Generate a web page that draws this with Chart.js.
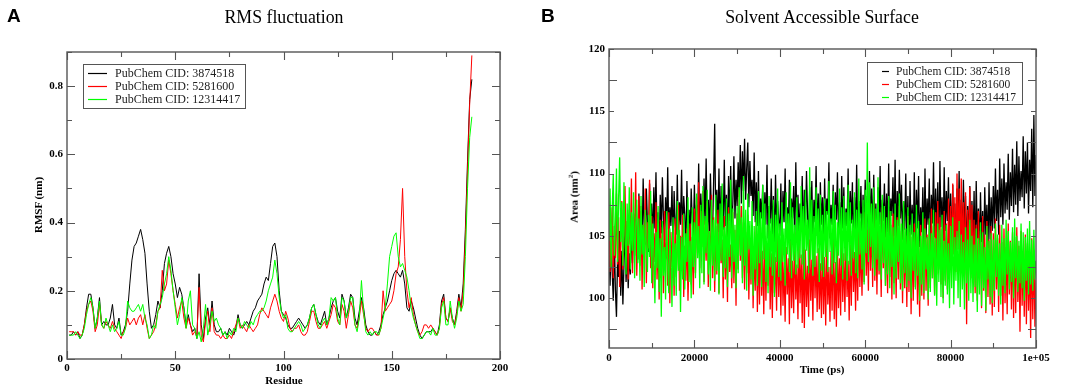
<!DOCTYPE html>
<html>
<head>
<meta charset="utf-8">
<script src="https://cdn.jsdelivr.net/npm/chart.js@4.4.1/dist/chart.umd.min.js"></script>
<style>
  html, body { margin: 0; padding: 0; background: #fff; }
  #page { position: relative; width: 1065px; height: 390px; overflow: hidden; background: #fff; }
  canvas { position: absolute; top: 0; }
  .t { position: absolute; white-space: nowrap; color: #000; }
  .panel { font-family: "Liberation Sans", Arial, sans-serif; font-weight: bold; font-size: 19px; }
  .title { font-family: "Liberation Serif", "Times New Roman", serif; font-size: 17.8px; transform: translateX(-50%); }
  .axt { font-family: "Liberation Serif", "Times New Roman", serif; font-weight: bold; font-size: 11px; }
</style>
</head>
<body>
<div id="page">
  <canvas id="cA" width="530" height="390" style="left:0;width:530px;height:390px"></canvas>
  <canvas id="cB" width="535" height="390" style="left:530px;width:535px;height:390px"></canvas>
  <div class="t panel" style="left:7px;top:5px">A</div>
  <div class="t panel" style="left:541px;top:5px">B</div>
  <div class="t title" style="left:284px;top:7px">RMS fluctuation</div>
  <div class="t title" style="left:822px;top:7px">Solvent Accessible Surface</div>
  <div class="t axt" style="left:284px;top:374px;transform:translateX(-50%)">Residue</div>
  <div class="t axt" style="left:38px;top:205px;transform:translate(-50%,-50%) rotate(-90deg)">RMSF (nm)</div>
  <div class="t axt" style="left:822px;top:363px;transform:translateX(-50%)">Time (ps)</div>
  <div class="t axt" style="left:573px;top:197px;transform:translate(-50%,-50%) rotate(-90deg)">Area (nm<sup style="font-size:7px">2</sup>)</div>
</div>
<script>
// ---------------- DATA ----------------
const seriesLabels = ['PubChem CID: 3874518', 'PubChem CID: 5281600', 'PubChem CID: 12314417'];

// Panel A: RMSF per residue (residues 1..187)
const rmsfBlack = [
  0.07,0.07,0.08,0.07,0.08,0.06,0.07,0.10,0.15,0.19,
  0.19,0.15,0.09,0.12,0.18,0.10,0.11,0.10,0.10,0.12,
  0.16,0.10,0.09,0.12,0.07,0.08,0.10,0.14,0.22,0.29,
  0.33,0.34,0.36,0.38,0.35,0.31,0.22,0.14,0.09,0.10,
  0.13,0.17,0.15,0.20,0.28,0.31,0.33,0.30,0.25,0.22,
  0.18,0.21,0.19,0.15,0.10,0.13,0.10,0.08,0.09,0.06,
  0.25,0.10,0.06,0.12,0.15,0.10,0.17,0.10,0.08,0.08,
  0.09,0.07,0.08,0.07,0.09,0.08,0.07,0.09,0.13,0.10,
  0.09,0.10,0.11,0.10,0.12,0.14,0.15,0.17,0.18,0.19,
  0.22,0.24,0.23,0.28,0.33,0.34,0.30,0.20,0.14,0.13,
  0.12,0.10,0.09,0.09,0.10,0.11,0.12,0.11,0.10,0.09,
  0.10,0.12,0.15,0.16,0.13,0.11,0.10,0.12,0.14,0.10,
  0.12,0.15,0.17,0.18,0.14,0.12,0.19,0.17,0.12,0.15,
  0.19,0.18,0.12,0.10,0.14,0.18,0.15,0.10,0.08,0.07,
  0.07,0.08,0.07,0.08,0.10,0.13,0.15,0.17,0.20,0.23,
  0.25,0.26,0.25,0.24,0.26,0.22,0.15,0.14,0.17,0.15,
  0.12,0.09,0.07,0.06,0.07,0.08,0.08,0.08,0.09,0.08,
  0.07,0.10,0.17,0.19,0.12,0.11,0.15,0.12,0.10,0.14,
  0.19,0.15,0.22,0.38,0.58,0.76,0.82
];
const rmsfRed = [
  0.08,0.08,0.08,0.07,0.08,0.07,0.07,0.10,0.14,0.16,
  0.17,0.14,0.08,0.10,0.16,0.10,0.09,0.11,0.10,0.09,
  0.11,0.09,0.08,0.07,0.06,0.08,0.09,0.12,0.10,0.11,
  0.12,0.10,0.12,0.13,0.10,0.13,0.09,0.06,0.07,0.08,
  0.10,0.14,0.15,0.26,0.20,0.22,0.29,0.25,0.20,0.16,
  0.12,0.15,0.17,0.12,0.09,0.12,0.10,0.07,0.08,0.07,
  0.21,0.07,0.05,0.11,0.14,0.08,0.15,0.08,0.07,0.07,
  0.06,0.07,0.06,0.06,0.07,0.06,0.08,0.10,0.12,0.09,
  0.10,0.09,0.08,0.10,0.09,0.08,0.09,0.10,0.13,0.15,
  0.14,0.13,0.12,0.15,0.17,0.19,0.17,0.14,0.12,0.11,
  0.14,0.12,0.09,0.08,0.09,0.09,0.10,0.08,0.07,0.07,
  0.08,0.11,0.14,0.14,0.11,0.09,0.09,0.10,0.11,0.09,
  0.11,0.13,0.16,0.15,0.11,0.10,0.16,0.14,0.09,0.13,
  0.17,0.15,0.10,0.09,0.12,0.17,0.13,0.09,0.08,0.09,
  0.09,0.08,0.07,0.07,0.09,0.20,0.14,0.15,0.16,0.17,
  0.20,0.25,0.27,0.35,0.50,0.30,0.20,0.15,0.18,0.13,
  0.10,0.08,0.07,0.08,0.10,0.10,0.09,0.10,0.09,0.08,
  0.07,0.09,0.16,0.18,0.12,0.11,0.15,0.11,0.10,0.13,
  0.18,0.14,0.20,0.35,0.55,0.75,0.89
];
const rmsfGreen = [
  0.07,0.07,0.07,0.08,0.07,0.06,0.07,0.09,0.13,0.16,
  0.18,0.15,0.09,0.12,0.17,0.10,0.09,0.12,0.10,0.08,
  0.10,0.08,0.09,0.11,0.07,0.07,0.09,0.17,0.15,0.14,
  0.14,0.15,0.16,0.14,0.16,0.12,0.10,0.06,0.07,0.10,
  0.09,0.14,0.16,0.18,0.22,0.25,0.30,0.26,0.20,0.15,
  0.10,0.13,0.18,0.15,0.09,0.17,0.20,0.10,0.09,0.06,
  0.08,0.05,0.09,0.16,0.07,0.10,0.14,0.11,0.12,0.10,
  0.09,0.07,0.08,0.06,0.08,0.07,0.09,0.08,0.12,0.10,
  0.09,0.11,0.10,0.09,0.11,0.10,0.12,0.13,0.14,0.14,
  0.15,0.17,0.20,0.22,0.24,0.29,0.25,0.18,0.14,0.12,
  0.13,0.09,0.08,0.08,0.09,0.10,0.11,0.10,0.08,0.09,
  0.10,0.12,0.15,0.16,0.13,0.10,0.09,0.11,0.12,0.10,
  0.12,0.18,0.17,0.18,0.12,0.10,0.18,0.17,0.12,0.14,
  0.18,0.18,0.10,0.08,0.12,0.23,0.14,0.08,0.07,0.08,
  0.07,0.08,0.08,0.07,0.09,0.12,0.15,0.22,0.30,0.33,
  0.36,0.37,0.30,0.27,0.28,0.26,0.24,0.20,0.15,0.12,
  0.10,0.08,0.06,0.06,0.07,0.08,0.08,0.07,0.09,0.07,
  0.07,0.09,0.15,0.17,0.10,0.10,0.17,0.12,0.09,0.12,
  0.17,0.14,0.16,0.30,0.50,0.65,0.71
];
const rmsfXTicks = [0, 50, 100, 150, 200];
const rmsfYTicks = [0, 0.2, 0.4, 0.6, 0.8];

// Panel B: SAS area (nm^2), one sample every 250 ps from 0 to 100000 ps
const sasStepPs = 250;
const sasBlack = [
  103.5,101.0,104.6,102.2,99.8,104.9,100.6,98.5,103.1,101.7,105.4,100.2,103.8,99.5,102.6,105.9,101.3,104.2,100.8,103.6,
  101.9,105.7,102.8,106.3,103.4,107.9,104.6,103.1,108.4,105.2,107.0,104.0,109.6,105.8,104.3,108.8,106.1,103.7,109.2,105.0,
  107.6,104.4,108.9,105.6,110.1,104.8,106.9,103.9,108.3,105.2,109.7,106.4,104.6,108.1,105.5,110.5,104.9,107.3,105.8,109.0,
  104.2,108.6,106.0,105.1,109.9,104.7,107.7,105.9,110.3,104.5,108.2,106.6,103.8,109.4,105.3,107.1,104.8,108.8,106.2,105.0,
  109.1,104.9,107.5,105.7,110.8,105.1,108.4,106.3,104.6,109.6,105.9,111.2,105.4,107.9,104.7,110.0,106.5,105.2,109.3,114.0,
  106.0,108.7,105.3,110.4,104.9,109.0,106.8,105.5,111.1,105.8,108.3,104.7,109.8,106.2,110.6,105.6,107.6,111.4,106.4,109.5,
  107.4,110.9,108.1,112.3,107.6,111.8,108.6,112.8,107.9,110.4,112.5,107.3,111.0,108.2,109.5,106.6,111.7,106.1,109.3,105.8,
  110.2,105.2,108.0,106.4,109.1,104.6,108.5,105.9,110.7,104.8,107.4,106.0,109.6,105.1,108.2,104.3,109.9,105.7,107.8,106.3,
  105.0,109.2,104.2,108.6,106.1,110.4,104.9,107.3,105.6,109.5,103.9,108.0,106.4,109.0,104.5,110.9,105.7,108.3,104.8,107.6,
  106.2,109.8,104.4,108.7,105.3,110.2,106.8,104.1,108.9,105.5,109.4,104.7,107.9,106.1,110.6,105.0,108.4,104.3,109.3,105.9,
  108.1,104.6,109.6,105.4,108.0,106.7,110.9,104.8,107.5,105.9,109.1,104.2,108.5,106.3,110.1,105.1,107.7,104.6,109.8,105.6,
  108.9,104.0,107.2,105.8,110.4,104.5,108.6,106.0,109.3,103.9,108.1,105.2,110.7,104.9,107.8,106.4,109.0,104.4,108.3,105.3,
  109.5,105.7,108.2,104.3,110.2,106.1,108.8,104.7,109.9,105.4,107.6,103.8,108.9,105.9,110.6,104.6,107.9,106.2,109.2,104.9,
  108.4,105.3,110.8,104.5,108.0,106.6,109.7,105.0,111.1,104.2,108.6,105.8,110.3,106.4,109.1,104.7,107.8,105.5,110.0,104.3,
  108.2,103.7,109.4,105.1,107.5,104.4,110.1,103.9,108.7,105.6,109.8,104.1,107.3,105.3,108.9,103.6,110.4,104.8,108.0,105.9,
  109.6,104.5,108.3,106.0,110.9,104.9,108.8,105.2,109.3,104.0,111.0,105.7,108.1,104.6,110.5,105.4,108.6,106.2,109.7,104.8,
  108.4,103.9,109.1,104.7,107.6,103.5,108.8,104.9,110.2,103.7,107.9,104.3,109.5,105.0,108.2,103.4,107.4,104.6,109.0,103.8,
  107.8,104.2,108.6,103.3,109.4,104.8,107.2,103.9,108.5,104.5,107.0,103.6,108.9,105.1,107.5,104.0,109.3,104.7,108.1,105.4,
  109.0,105.6,110.4,106.2,108.7,105.1,111.2,106.5,109.6,105.9,110.8,106.8,109.3,107.1,111.6,106.3,110.1,107.4,112.0,106.9,
  110.7,107.5,112.6,106.6,111.4,107.8,110.2,108.1,113.0,107.2,111.8,108.4,112.5,106.8,111.1,108.6,113.6,107.3,114.7,108.2,
  111.5
];
const sasRed = [
  106.0,102.1,104.9,107.3,101.6,105.8,103.2,108.4,102.7,106.5,100.9,104.4,107.8,102.3,105.1,109.0,103.4,106.2,101.5,107.1,
  104.3,109.6,102.0,106.8,103.7,110.1,101.8,105.5,108.2,102.6,107.4,100.7,105.9,103.3,108.8,101.2,106.1,104.0,109.5,102.4,
  106.6,100.8,105.2,102.9,107.7,101.5,104.6,99.9,106.3,102.2,105.7,100.4,107.0,103.1,104.5,101.0,106.9,99.6,105.3,102.5,
  104.8,100.2,106.4,101.7,103.9,107.5,100.6,105.0,102.8,106.7,100.1,104.2,101.4,105.6,99.8,103.7,106.0,101.1,104.9,100.3,
  107.2,102.0,108.1,103.6,109.3,102.4,107.0,104.1,108.6,101.3,106.2,103.0,107.8,100.9,105.4,102.7,108.3,101.6,106.5,100.5,
  105.8,101.9,107.1,100.4,106.0,102.8,104.7,100.0,106.6,101.5,105.1,99.7,107.3,102.1,104.3,100.8,106.9,101.2,105.5,99.4,
  106.8,102.3,108.7,103.0,107.4,101.6,106.1,100.7,105.3,102.0,106.7,99.9,104.6,101.1,105.9,99.2,104.0,100.6,106.3,98.9,
  104.5,99.5,105.7,100.2,103.8,98.7,105.0,99.8,104.2,101.0,105.8,99.1,103.6,98.4,104.9,100.4,103.3,99.0,105.2,100.1,
  103.7,98.6,104.8,99.4,102.9,98.1,104.1,100.3,103.2,97.9,104.6,99.2,103.0,98.8,105.3,99.9,102.7,98.3,104.4,99.6,
  103.5,98.0,104.3,97.6,103.9,99.3,102.6,98.5,104.7,99.8,103.1,98.2,105.0,100.0,103.4,98.9,104.0,99.1,102.8,98.4,
  104.2,98.7,103.3,97.8,104.5,99.5,102.5,98.1,103.8,99.0,104.9,98.3,102.9,97.7,104.1,99.2,103.2,98.6,105.1,99.7,
  103.6,98.9,104.8,100.1,103.0,98.2,104.3,99.4,105.4,100.5,103.7,99.0,104.6,99.8,106.0,100.9,104.4,100.2,105.7,101.3,
  106.9,101.8,105.5,100.6,107.6,102.2,106.1,100.9,107.9,101.4,105.8,100.3,106.7,101.9,105.2,100.1,107.3,102.4,106.4,101.0,
  105.6,100.4,107.0,101.7,105.9,99.9,106.8,101.2,105.1,100.0,106.5,101.5,107.4,100.7,105.4,99.6,106.2,100.8,105.0,99.3,
  106.6,100.5,105.3,98.7,104.9,99.8,106.0,100.9,105.7,99.5,104.6,98.5,105.9,100.2,104.8,99.9,106.4,100.6,105.1,99.4,
  106.3,100.8,107.2,101.6,105.8,100.3,106.9,101.9,107.8,102.3,106.5,101.1,105.6,100.0,107.0,101.4,106.0,100.7,108.0,102.0,
  107.4,102.6,109.2,103.5,108.1,102.1,110.0,103.9,108.8,102.8,109.6,103.2,107.7,101.9,108.5,97.9,107.1,102.5,108.9,101.6,
  107.5,101.2,106.3,100.4,105.9,99.8,107.0,101.5,105.4,99.2,106.6,100.6,105.1,98.8,106.2,100.1,104.7,99.5,105.8,98.6,
  105.2,99.3,106.4,100.7,104.8,98.9,105.9,100.2,104.5,98.2,105.6,99.6,104.1,98.7,106.0,100.3,104.6,99.1,105.3,98.4,
  104.9,98.8,105.7,99.7,104.2,97.3,105.4,99.4,103.8,98.5,105.1,97.9,104.4,99.0,103.6,96.8,104.8,98.3,103.9,97.7,
  101.5
];
const sasGreen = [
  104.6,108.8,102.5,107.2,109.9,103.4,106.1,110.4,102.9,108.0,111.3,104.5,107.7,102.6,109.3,105.0,101.9,107.6,104.2,108.9,
  102.3,106.9,103.8,108.5,101.6,105.7,107.9,102.8,106.4,101.4,108.2,103.5,105.9,100.9,107.1,104.0,102.1,106.7,103.3,108.6,
  101.2,106.0,103.7,99.6,105.3,102.4,107.4,100.5,104.8,98.5,106.2,101.8,104.1,99.9,107.0,102.7,100.4,105.6,103.1,99.3,
  106.5,101.0,104.4,100.2,107.8,102.2,105.5,98.9,104.9,101.5,106.8,100.7,105.2,102.9,108.1,101.3,104.6,100.0,107.3,102.5,
  106.1,101.6,108.4,103.2,105.8,100.8,107.5,102.0,109.0,101.1,106.6,103.6,108.7,101.9,105.4,100.6,107.9,102.6,106.3,101.4,
  108.3,102.2,106.0,100.3,107.6,103.0,109.2,101.7,105.7,102.4,108.0,100.9,106.8,103.3,109.5,101.6,107.2,102.9,105.9,100.8,
  107.4,102.0,108.9,103.4,106.5,101.2,109.8,102.6,107.1,100.6,108.4,103.9,106.2,101.5,107.8,100.2,105.8,102.3,107.0,101.0,
  108.6,102.8,106.9,100.9,109.1,103.1,107.6,101.3,105.9,100.4,108.2,102.5,106.4,101.8,107.9,100.1,106.7,102.9,108.8,101.7,
  106.0,101.4,107.7,102.9,105.6,101.0,108.5,103.5,106.8,102.1,109.3,101.6,107.3,103.0,105.9,101.9,108.1,102.4,106.5,103.2,
  109.0,102.7,107.4,101.5,108.7,103.8,106.3,102.0,110.5,103.1,107.9,101.8,106.6,102.5,108.9,103.6,107.2,101.3,108.3,102.2,
  106.7,101.7,108.0,103.3,107.0,102.1,109.4,103.7,106.4,101.9,108.6,102.8,107.5,101.2,106.1,103.4,108.8,102.6,107.3,101.5,
  108.2,103.0,106.9,101.4,109.1,102.7,107.7,101.8,106.3,103.2,108.5,102.0,107.1,101.6,109.6,103.5,106.8,102.3,107.9,101.1,
  108.7,103.6,112.5,102.9,109.3,104.1,107.6,102.4,108.9,101.8,107.2,103.1,109.7,102.2,106.9,101.5,108.3,102.8,107.4,101.0,
  106.5,101.9,108.2,100.8,107.0,102.5,105.7,100.3,107.6,101.6,106.3,102.9,108.4,101.2,106.0,100.6,107.8,102.0,105.6,100.9,
  107.3,101.4,105.9,100.0,106.8,102.2,105.3,100.7,107.5,101.8,106.2,99.8,105.0,101.1,106.9,100.4,105.6,102.3,104.9,99.9,
  106.4,100.5,105.2,101.6,107.1,100.2,104.8,99.4,106.0,101.3,105.5,100.1,106.7,99.6,104.6,101.0,105.9,100.3,104.4,99.2,
  105.8,100.8,106.5,99.5,104.9,101.4,105.4,100.0,106.2,99.3,105.1,100.7,104.5,99.1,105.7,101.2,104.7,99.8,106.3,100.4,
  105.0,99.7,104.3,100.9,105.6,98.9,104.8,100.3,106.1,99.4,105.3,100.8,104.1,99.0,105.8,101.5,104.6,100.1,105.2,99.6,
  104.7,100.6,106.0,101.7,105.1,100.2,104.4,99.5,105.9,101.0,104.8,100.4,106.3,101.9,105.4,100.7,104.5,101.3,105.7,100.0,
  106.4,101.6,105.0,100.5,104.6,101.2,106.0,100.8,105.3,99.8,104.9,101.4,105.6,100.3,106.2,101.1,104.7,100.6,105.5,101.5,
  103.0
];
const sasXTicks = [0, 20000, 40000, 60000, 80000, 100000];
const sasXTickLabels = ['0', '20000', '40000', '60000', '80000', '1e+05'];
const sasYTicks = [100, 105, 110, 115, 120];

const seriesColors = ['#000000', '#ff0000', '#00ff00'];

// ---------------- HELPERS ----------------
const serif = '"Liberation Serif", "Times New Roman", serif';

const framePlugin = {
  id: 'frame',
  afterDatasetsDraw(chart, args, o) {
    const { ctx, chartArea: a, scales: { x, y } } = chart;
    ctx.save();
    // legend
    const L = o.legend;
    ctx.fillStyle = '#fff';
    ctx.fillRect(L.x, L.y, L.w, L.h);
    ctx.strokeStyle = '#555';
    ctx.lineWidth = 1;
    ctx.strokeRect(L.x + 0.5, L.y + 0.5, L.w, L.h);
    ctx.font = L.font;
    ctx.textBaseline = 'middle';
    chart.data.datasets.forEach((ds, i) => {
      const yy = L.y + L.rowTop + i * L.rowH;
      ctx.strokeStyle = ds.borderColor;
      ctx.lineWidth = 1.2;
      ctx.beginPath();
      ctx.moveTo(L.x + L.lineX0, yy + 0.5);
      ctx.lineTo(L.x + L.lineX1, yy + 0.5);
      ctx.stroke();
      ctx.fillStyle = '#222';
      ctx.fillText(ds.label, L.x + L.textX, yy + 1);
    });
    // frame
    ctx.strokeStyle = '#555';
    ctx.lineWidth = 1.4;
    ctx.strokeRect(a.left, a.top, a.right - a.left, a.bottom - a.top);
    // ticks (inward, all four sides)
    ctx.lineWidth = 1.1;
    const n = Math.round((o.xMax - o.xMin) / o.xMinor);
    for (let k = 0; k <= n; k++) {
      const v = o.xMin + k * o.xMinor;
      const px = Math.round(x.getPixelForValue(v)) + 0.5;
      const len = (k % 2 === 0) ? 8 : 5;
      ctx.beginPath();
      ctx.moveTo(px, a.bottom); ctx.lineTo(px, a.bottom - len);
      ctx.moveTo(px, a.top); ctx.lineTo(px, a.top + len);
      ctx.stroke();
    }
    const m = Math.floor((o.yMax - o.yStart) / o.yMinor + 1e-6);
    for (let k = 0; k <= m; k++) {
      const v = o.yStart + k * o.yMinor;
      const py = Math.round(y.getPixelForValue(v)) + 0.5;
      const len = (k % 2 === 0) ? 8 : 5;
      ctx.beginPath();
      ctx.moveTo(a.left, py); ctx.lineTo(a.left + len, py);
      ctx.moveTo(a.right, py); ctx.lineTo(a.right - len, py);
      ctx.stroke();
    }
    ctx.restore();
  }
};

function makeChart(id, cfg) {
  const datasets = cfg.series.map((arr, i) => ({
    label: seriesLabels[i],
    data: arr.map((v, j) => ({ x: cfg.xOf(j), y: v })),
    borderColor: seriesColors[i],
    borderWidth: cfg.lineW,
    borderJoinStyle: 'miter',
    pointRadius: 0,
    tension: 0,
    fill: false,
    order: 3 - i
  }));
  return new Chart(document.getElementById(id), {
    type: 'line',
    data: { datasets },
    plugins: [framePlugin],
    options: {
      responsive: false,
      animation: false,
      devicePixelRatio: 1,
      layout: { padding: cfg.padding },
      plugins: { legend: { display: false }, tooltip: { enabled: false }, title: { display: false }, frame: cfg.frame },
      scales: {
        x: {
          type: 'linear', min: cfg.xMin, max: cfg.xMax,
          grid: { display: false, drawTicks: false },
          border: { display: false },
          afterFit: s => { s.height = cfg.xH; },
          afterBuildTicks: s => { s.ticks = cfg.xTicks.map(v => ({ value: v })); },
          ticks: {
            padding: cfg.xPad, color: '#000', maxRotation: 0, autoSkip: false,
            font: { family: serif, weight: 'bold', size: 11 },
            callback: cfg.xLabel
          }
        },
        y: {
          type: 'linear', min: cfg.yMin, max: cfg.yMax,
          grid: { display: false, drawTicks: false },
          border: { display: false },
          afterFit: s => { s.width = cfg.yW; },
          afterBuildTicks: s => { s.ticks = cfg.yTicks.map(v => ({ value: v })); },
          ticks: {
            padding: 4, color: '#000', autoSkip: false,
            font: { family: serif, weight: 'bold', size: 11 },
            callback: cfg.yLabel
          }
        }
      }
    }
  });
}

// Panel A
makeChart('cA', {
  series: [rmsfBlack, rmsfRed, rmsfGreen],
  xOf: j => j + 1,
  lineW: 1,
  xMin: 0, xMax: 200, yMin: 0, yMax: 0.9,
  xTicks: rmsfXTicks, yTicks: rmsfYTicks,
  xLabel: v => String(v), yLabel: v => (v === 0 ? '0' : String(v)),
  padding: { left: 0, right: 30, top: 52, bottom: 0 },
  yW: 67, xH: 31, xPad: 3,
  frame: {
    xMin: 0, xMax: 200, xMinor: 25, yStart: 0, yMax: 0.9, yMinor: 0.1,
    legend: { x: 83, y: 64, w: 162, h: 44, rowTop: 9, rowH: 13, lineX0: 5, lineX1: 24, textX: 32, font: '12px ' + serif }
  }
});

// Panel B
makeChart('cB', {
  series: [sasBlack, sasRed, sasGreen],
  xOf: j => j * sasStepPs,
  lineW: 1.3,
  xMin: 0, xMax: 100000, yMin: 96, yMax: 120,
  xTicks: sasXTicks, yTicks: sasYTicks,
  xLabel: v => sasXTickLabels[sasXTicks.indexOf(v)], yLabel: v => String(v),
  padding: { left: 0, right: 29, top: 49, bottom: 0 },
  yW: 79, xH: 42, xPad: 4,
  frame: {
    xMin: 0, xMax: 100000, xMinor: 10000, yStart: 97.5, yMax: 120, yMinor: 2.5,
    legend: { x: 337, y: 62, w: 155, h: 42, rowTop: 9, rowH: 13, lineX0: 15, lineX1: 22, textX: 29, font: '11.5px ' + serif }
  }
});
</script>
</body>
</html>
